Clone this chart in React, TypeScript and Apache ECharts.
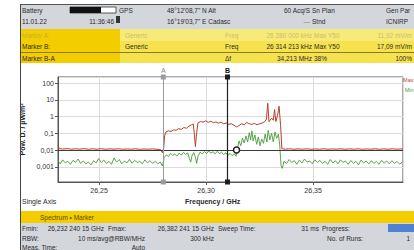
import React, { useEffect, useRef } from "react";
import * as echarts from "echarts";

// ---------- data ----------
const freqMin = 26.2308;
const freqMax = 26.392;
const powMin = 0.000123;
const powMax = 230;
const yTickLabels = ["0,001", "0,01", "0,1", "1", "10", "100"];
const markerA = 26.28;
const markerB = 26.314213;
const markerBLevel = 0.01;
const refLevel = 0.01;

const redTrace: [number, number][] = [
  [26.2308, 0.019], [26.2314, 0.012], [26.233, 0.0115], [26.235, 0.0121], [26.237, 0.0112], [26.239, 0.0119],
  [26.241, 0.0113], [26.243, 0.0121], [26.245, 0.0111], [26.247, 0.0118], [26.249, 0.0112], [26.251, 0.012],
  [26.253, 0.0111], [26.255, 0.0117], [26.257, 0.0113], [26.259, 0.0119], [26.261, 0.0111], [26.263, 0.0116],
  [26.265, 0.0112], [26.267, 0.0118], [26.269, 0.0111], [26.271, 0.0115], [26.273, 0.0112], [26.275, 0.0117],
  [26.277, 0.011], [26.2788, 0.0104], [26.2796, 0.0068], [26.2802, 0.013], [26.2806, 0.07], [26.2812, 0.12],
  [26.2824, 0.14], [26.2836, 0.13], [26.2848, 0.16], [26.286, 0.15], [26.2872, 0.19], [26.2884, 0.17],
  [26.2896, 0.22], [26.2908, 0.2], [26.292, 0.27], [26.2932, 0.32], [26.294, 0.36], [26.2945, 0.09],
  [26.295, 0.016], [26.2956, 0.11], [26.2962, 0.42], [26.2974, 0.5], [26.2986, 0.46], [26.2998, 0.55],
  [26.301, 0.45], [26.3022, 0.52], [26.3034, 0.43], [26.3046, 0.48], [26.3058, 0.4], [26.307, 0.46],
  [26.3082, 0.37], [26.3094, 0.41], [26.3106, 0.34], [26.3118, 0.37], [26.313, 0.3], [26.3142, 0.24],
  [26.3154, 0.29], [26.3166, 0.37], [26.3178, 0.32], [26.319, 0.44], [26.3202, 0.37], [26.3214, 0.34],
  [26.3226, 0.39], [26.3238, 0.32], [26.325, 0.37], [26.3262, 0.41], [26.3274, 0.5], [26.3282, 0.7],
  [26.3288, 6.2], [26.3294, 0.5], [26.3306, 0.8], [26.3314, 0.6], [26.332, 2.6], [26.3326, 0.5],
  [26.3334, 1.2], [26.3341, 4.1], [26.3348, 0.3], [26.3354, 0.012], [26.337, 0.0113], [26.339, 0.0119],
  [26.341, 0.0111], [26.343, 0.0117], [26.345, 0.0112], [26.347, 0.0118], [26.349, 0.0111], [26.351, 0.0116],
  [26.353, 0.0112], [26.355, 0.0119], [26.357, 0.0111], [26.359, 0.0116], [26.361, 0.0113], [26.363, 0.0118],
  [26.365, 0.0111], [26.367, 0.0117], [26.369, 0.0112], [26.371, 0.0118], [26.373, 0.0111], [26.375, 0.0116],
  [26.377, 0.0112], [26.379, 0.0118], [26.381, 0.0111], [26.383, 0.0117], [26.385, 0.0112], [26.387, 0.0118],
  [26.389, 0.0113], [26.391, 0.0116], [26.392, 0.0114],
];

const greenTrace: [number, number][] = [
  [26.2308, 0.0022], [26.2318, 0.0015], [26.233, 0.0026], [26.2342, 0.0017], [26.2354, 0.0021], [26.2366, 0.0014],
  [26.2378, 0.0024], [26.239, 0.0018], [26.2402, 0.0029], [26.2414, 0.0016], [26.2426, 0.0022], [26.2438, 0.0015],
  [26.245, 0.0019], [26.2462, 0.0013], [26.2474, 0.0023], [26.2486, 0.0017], [26.2498, 0.0031], [26.251, 0.0018],
  [26.2522, 0.0025], [26.2534, 0.0016], [26.2546, 0.0021], [26.2558, 0.0014], [26.257, 0.0034], [26.2582, 0.0019],
  [26.2594, 0.0027], [26.2606, 0.0015], [26.2618, 0.0022], [26.263, 0.0017], [26.2642, 0.0028], [26.2654, 0.0016],
  [26.2666, 0.0024], [26.2678, 0.0018], [26.269, 0.0021], [26.2702, 0.0015], [26.2714, 0.0026], [26.2726, 0.0017],
  [26.2738, 0.0023], [26.275, 0.0016], [26.2762, 0.0021], [26.2774, 0.0015], [26.2786, 0.0019], [26.2796, 0.0011],
  [26.2804, 0.0035], [26.2814, 0.0052], [26.2824, 0.0041], [26.2834, 0.0063], [26.2844, 0.0047], [26.2854, 0.0058],
  [26.2864, 0.0043], [26.2874, 0.0066], [26.2884, 0.0049], [26.2894, 0.0072], [26.2904, 0.0055], [26.2914, 0.0068],
  [26.2922, 0.0031], [26.2928, 0.0019], [26.2934, 0.0045], [26.2942, 0.0071], [26.295, 0.0038], [26.2956, 0.0016],
  [26.2962, 0.0042], [26.2972, 0.0075], [26.2982, 0.0058], [26.2992, 0.0081], [26.3002, 0.0062], [26.3012, 0.0088],
  [26.3022, 0.0065], [26.3032, 0.0079], [26.3042, 0.0059], [26.3052, 0.0084], [26.3062, 0.0061], [26.3072, 0.0073],
  [26.3082, 0.0055], [26.3092, 0.0068], [26.3102, 0.0049], [26.3112, 0.0063], [26.3122, 0.0046], [26.3132, 0.0058],
  [26.314, 0.0042], [26.3146, 0.012], [26.3154, 0.035], [26.3162, 0.018], [26.317, 0.052], [26.3178, 0.026],
  [26.3186, 0.07], [26.3194, 0.03], [26.3202, 0.11], [26.3208, 0.04], [26.3214, 0.14], [26.322, 0.035],
  [26.3228, 0.08], [26.3236, 0.022], [26.3244, 0.06], [26.3252, 0.018], [26.326, 0.045], [26.3268, 0.025],
  [26.3276, 0.09], [26.3284, 0.03], [26.329, 0.15], [26.3298, 0.04], [26.3306, 0.1], [26.3314, 0.03],
  [26.3322, 0.12], [26.333, 0.05], [26.3338, 0.09], [26.3344, 0.02], [26.335, 0.0012], [26.3356, 0.0008],
  [26.3364, 0.0021], [26.3376, 0.0016], [26.3388, 0.0027], [26.34, 0.0018], [26.3412, 0.0023], [26.3424, 0.0014],
  [26.3436, 0.0025], [26.3448, 0.0017], [26.346, 0.0029], [26.3472, 0.0019], [26.3484, 0.0022], [26.3496, 0.0015],
  [26.3508, 0.0026], [26.352, 0.0018], [26.3532, 0.0024], [26.3544, 0.0016], [26.3556, 0.0021], [26.3568, 0.0014],
  [26.358, 0.0027], [26.3592, 0.0017], [26.3604, 0.0023], [26.3616, 0.0015], [26.3628, 0.0026], [26.364, 0.0018],
  [26.3652, 0.0022], [26.3664, 0.0014], [26.3676, 0.0024], [26.3688, 0.0016], [26.37, 0.0021], [26.3712, 0.0013],
  [26.3724, 0.0025], [26.3736, 0.0017], [26.3748, 0.0022], [26.376, 0.0015], [26.3772, 0.0023], [26.3784, 0.0016],
  [26.3796, 0.0021], [26.3808, 0.0014], [26.382, 0.0024], [26.3832, 0.0017], [26.3844, 0.0022], [26.3856, 0.0015],
  [26.3868, 0.0023], [26.388, 0.0016], [26.3892, 0.0021], [26.3904, 0.0014], [26.3916, 0.0019],
];

// header / footer texts
const statusRow1 = ["Battery", "GPS", "48°12'08,7\" N Alt", "60 Acq/S", "Sn Plan", "Gen Par"];
const statusRow2 = ["11.01.22", "11:36:46", "16°19'03,7\" E Cadasc", "—", "Stnd", "ICNIRP"];
const markerRowA = ["Marker A:", "Generic", "Freq", "26 280 000 kHz", "Max Y50", "11,92 mV/m"];
const markerRowB = ["Marker B:", "Generic", "Freq", "26 314 213 kHz", "Max Y50", "17,09 mV/m"];
const markerRowBA = ["Marker B-A", "Δf", "34,213 MHz", "38%", "100%"];
const footerRow1 = ["Fmin:", "26,232 240 15 GHz", "Fmax:", "26,382 241 15 GHz", "Sweep Time:", "31 ms", "Progress:"];
const footerRow2 = ["RBW:", "10 ms/avg@RBW/MHz", "300 kHz", "No. of Runs:", "1"];
const footerRow3 = ["Meas. Time:", "Auto"];
const legendNames = ["Max", "Min"];

const FONT = "'Liberation Sans', Arial, sans-serif";

function txt(x: number, y: number, text: string, opts: any = {}) {
  return {
    type: "text",
    x,
    y,
    silent: true,
    z: 10,
    style: {
      text,
      fontSize: opts.size ?? 6.5,
      fontFamily: FONT,
      fontWeight: opts.weight ?? "normal",
      fill: opts.color ?? "#2a2a2a",
      textAlign: opts.align ?? "left",
      textVerticalAlign: "middle",
    },
  };
}

function rect(x: number, y: number, w: number, h: number, fill: string, extra: any = {}) {
  return { type: "rect", silent: true, z: 5, shape: { x, y, width: w, height: h }, style: { fill, ...extra } };
}

export default function App() {
  const ref = useRef<HTMLDivElement>(null);
  useEffect(() => {
    if (!ref.current) return;
    const chart = echarts.init(ref.current, null, { renderer: "svg" });
    const faded = "#c9ae3a";
    const fadedLight = "#cdbd64";
    const graphic: any[] = [
      rect(20, 4, 394, 25, "#d3d7dc"),
      rect(20, 29, 100, 34, "#f4cd00"),
      rect(120, 29, 294, 12, "#f8ea7a"),
      rect(120, 41, 294, 22, "#f6e24e"),
      { type: "line", silent: true, z: 6, shape: { x1: 20, y1: 52.5, x2: 414, y2: 52.5 }, style: { stroke: "#8c7b1c", lineWidth: 1.2 } },
      rect(20, 211, 394, 12, "#f4cd00"),
      rect(20, 223, 394, 27, "#d3d7dc"),
      { type: "line", silent: true, z: 7, shape: { x1: 20.5, y1: 4, x2: 20.5, y2: 250 }, style: { stroke: "#444", lineWidth: 1 } },
      { type: "line", silent: true, z: 7, shape: { x1: 20, y1: 4.5, x2: 414, y2: 4.5 }, style: { stroke: "#555", lineWidth: 1 } },
      rect(70, 7, 46, 6, "#ffffff", { stroke: "#333", lineWidth: 0.8 }),
      rect(70, 7, 31, 6, "#111111"),
      rect(116, 16, 4, 7, "#333333"),
      txt(22, 10, statusRow1[0]),
      txt(119, 10, statusRow1[1]),
      txt(167, 10, statusRow1[2]),
      txt(310, 10, statusRow1[3], { align: "right" }),
      txt(312, 10, statusRow1[4]),
      txt(386, 10, statusRow1[5]),
      txt(22, 21, statusRow2[0]),
      txt(114, 21, statusRow2[1], { align: "right" }),
      txt(167, 21, statusRow2[2]),
      txt(310, 21, statusRow2[3], { align: "right", color: "#888" }),
      txt(312, 21, statusRow2[4]),
      txt(386, 21, statusRow2[5]),
      txt(22, 35, markerRowA[0], { color: faded }),
      txt(125, 35, markerRowA[1], { color: fadedLight }),
      txt(225, 35, markerRowA[2], { color: fadedLight }),
      txt(312, 35, markerRowA[3], { align: "right", color: fadedLight }),
      txt(314, 35, markerRowA[4], { color: fadedLight }),
      txt(412, 35, markerRowA[5], { align: "right", color: fadedLight }),
      txt(22, 46.5, markerRowB[0]),
      txt(125, 46.5, markerRowB[1]),
      txt(225, 46.5, markerRowB[2]),
      txt(312, 46.5, markerRowB[3], { align: "right" }),
      txt(314, 46.5, markerRowB[4]),
      txt(412, 46.5, markerRowB[5], { align: "right" }),
      txt(22, 58, markerRowBA[0]),
      txt(225, 58, markerRowBA[1]),
      txt(312, 58, markerRowBA[2], { align: "right" }),
      txt(314, 58, markerRowBA[3]),
      txt(412, 58, markerRowBA[4], { align: "right" }),
      txt(413.5, 80, legendNames[0], { color: "#b8402c", size: 5.5, align: "right" }),
      txt(413.5, 90, legendNames[1], { color: "#4a9a3c", size: 5.5, align: "right" }),
      txt(22, 201, "Single Axis", { size: 7 }),
      txt(185, 201, "Frequency / GHz", { size: 7, weight: "bold" }),
      txt(40, 217, "Spectrum • Marker", { size: 6.5, color: "#5a4a00" }),
      txt(22, 228, footerRow1[0]),
      txt(104, 228, footerRow1[1], { align: "right" }),
      txt(108, 228, footerRow1[2]),
      txt(214, 228, footerRow1[3], { align: "right" }),
      txt(218, 228, footerRow1[4]),
      txt(319, 228, footerRow1[5], { align: "right" }),
      txt(322, 228, footerRow1[6]),
      rect(388, 224, 26, 8, "#4f82d2"),
      txt(22, 238, footerRow2[0]),
      txt(145, 238, footerRow2[1], { align: "right" }),
      txt(214, 238, footerRow2[2], { align: "right" }),
      txt(327, 238, footerRow2[3]),
      txt(410, 238, footerRow2[4], { align: "right" }),
      txt(22, 247, footerRow3[0]),
      txt(145, 247, footerRow3[1], { align: "right" }),
    ];

    chart.setOption({
      animation: false,
      backgroundColor: "#ffffff",
      textStyle: { fontFamily: FONT },
      grid: { left: 58, right: 11, top: 77, bottom: 68, show: true, borderColor: "#555", borderWidth: 1, backgroundColor: "transparent" },
      xAxis: {
        type: "value",
        min: freqMin,
        max: freqMax,
        splitNumber: 3,
        axisLine: { show: true, lineStyle: { color: "#555" } },
        axisTick: { show: true, length: 3, lineStyle: { color: "#555" } },
        axisLabel: {
          fontSize: 7,
          color: "#333",
          margin: 5,
          showMinLabel: false,
          showMaxLabel: false,
          formatter: (v: number) => v.toFixed(2).replace(".", ","),
        },
        splitLine: { show: true, lineStyle: { color: "#dcdcdc", width: 1 } },
      },
      yAxis: {
        type: "log",
        logBase: 10,
        min: powMin,
        max: powMax,
        name: "Pow. D. / µW/m²",
        nameLocation: "middle",
        nameGap: 28,
        nameTextStyle: { fontSize: 7, color: "#222", fontWeight: "bold" },
        axisLine: { show: true, lineStyle: { color: "#555" } },
        axisTick: { show: true, length: 3, lineStyle: { color: "#555" } },
        axisLabel: {
          fontSize: 7,
          color: "#333",
          margin: 4,
          showMinLabel: false,
          showMaxLabel: false,
          formatter: (v: number) => {
            const e = Math.round(Math.log10(v));
            return yTickLabels[e + 3] ?? "";
          },
        },
        splitLine: { show: true, lineStyle: { color: "#dcdcdc", width: 1 } },
      },
      series: [
        {
          type: "line",
          name: "ref",
          data: [],
          silent: true,
          markLine: {
            silent: true,
            symbol: "none",
            label: { show: false },
            data: [{ yAxis: refLevel, lineStyle: { color: "#3a3a3a", width: 1, type: "solid" } }],
          },
        },
        {
          type: "line",
          name: "Max",
          data: redTrace,
          showSymbol: false,
          lineStyle: { color: "#b8402c", width: 1 },
          itemStyle: { color: "#b8402c" },
        },
        {
          type: "line",
          name: "Min",
          data: greenTrace,
          showSymbol: false,
          lineStyle: { color: "#4a9a3c", width: 0.9 },
          itemStyle: { color: "#4a9a3c" },
        },
        {
          type: "line",
          name: "markers",
          data: [],
          silent: true,
          markLine: {
            silent: true,
            symbol: ["rect", "rect"],
            symbolSize: 5,
            data: [
              {
                xAxis: markerA,
                lineStyle: { color: "#9a9a9a", width: 1, type: "solid" },
                itemStyle: { color: "#9a9a9a" },
                label: { show: true, position: "end", formatter: "A", fontSize: 7, color: "#888", distance: 3 },
              },
              {
                xAxis: markerB,
                lineStyle: { color: "#1e1e1e", width: 1.2, type: "solid" },
                itemStyle: { color: "#1e1e1e" },
                label: { show: true, position: "end", formatter: "B", fontSize: 7, fontWeight: "bold", color: "#111", distance: 3 },
              },
            ],
          },
          markPoint: {
            silent: true,
            symbol: "circle",
            symbolSize: 6,
            label: { show: false },
            itemStyle: { color: "#ffffff", borderColor: "#1e1e1e", borderWidth: 1.5 },
            data: [{ coord: [markerB, markerBLevel] }],
          },
        },
      ],
      graphic,
    });
    return () => chart.dispose();
  }, []);
  return <div ref={ref} style={{ position: "fixed", left: 0, top: 0, width: 414, height: 250 }} />;
}
